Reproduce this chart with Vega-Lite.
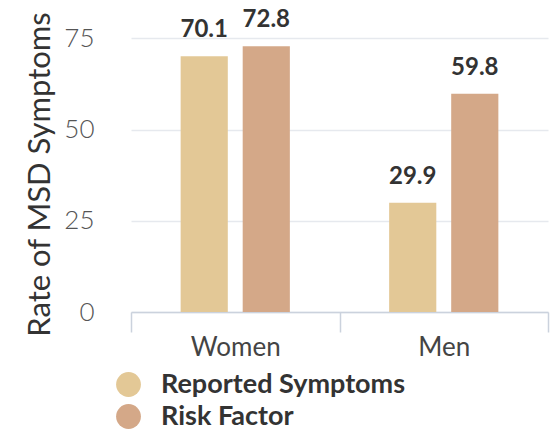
{
  "$schema": "https://vega.github.io/schema/vega-lite/v6.json",
  "width": 417,
  "height": 292,
  "autosize": {"type": "none"},
  "padding": {"left": 131, "top": 20, "right": 4, "bottom": 122},
  "background": "white",
  "config": {
    "view": {"stroke": null},
    "font": "Lato"
  },
  "data": {
    "values": [
      {"gender": "Women", "measure": "Reported Symptoms", "value": 70.1},
      {"gender": "Women", "measure": "Risk Factor", "value": 72.8},
      {"gender": "Men", "measure": "Reported Symptoms", "value": 29.9},
      {"gender": "Men", "measure": "Risk Factor", "value": 59.8}
    ]
  },
  "encoding": {
    "x": {
      "field": "gender",
      "type": "nominal",
      "sort": ["Women", "Men"],
      "scale": {"paddingInner": 0, "paddingOuter": 0},
      "axis": {
        "title": null,
        "labelAngle": 0,
        "labelFont": "Lato",
        "labelFontSize": 26,
        "labelColor": "#444444",
        "labelPadding": 2,
        "tickBand": "extent",
        "tickSize": 20,
        "tickColor": "#CBD2DD",
        "domainColor": "#CBD2DD",
        "domainWidth": 1.5,
        "tickWidth": 1.5,
        "grid": false
      }
    },
    "xOffset": {
      "field": "measure",
      "type": "nominal",
      "sort": ["Reported Symptoms", "Risk Factor"],
      "scale": {"paddingInner": 0.24, "paddingOuter": 0.8}
    },
    "y": {
      "field": "value",
      "type": "quantitative",
      "scale": {"domain": [0, 80], "nice": false},
      "axis": {
        "title": "Rate of MSD Symptoms",
        "titleFont": "Lato",
        "titleFontSize": 31,
        "titleFontWeight": "normal",
        "titleColor": "#333333",
        "titleX": -75,
        "titleY": 154,
        "values": [0, 25, 50, 75],
        "labelFont": "Lato",
        "labelFontSize": 26,
        "labelFontWeight": 300,
        "labelColor": "#555555",
        "labelPadding": 37,
        "domain": false,
        "ticks": false,
        "gridColor": "#E6E9EE",
        "gridWidth": 1.5
      }
    }
  },
  "layer": [
    {
      "mark": {"type": "bar"},
      "encoding": {
        "color": {
          "field": "measure",
          "type": "nominal",
          "sort": ["Reported Symptoms", "Risk Factor"],
          "scale": {"range": ["#E3C896", "#D4A888"]},
          "legend": {
            "title": null,
            "orient": "none",
            "legendX": -16,
            "legendY": 351,
            "padding": 0,
            "symbolType": "circle",
            "symbolSize": 615,
            "symbolStrokeWidth": 0,
            "symbolOpacity": 1,
            "rowPadding": 4,
            "labelFont": "Lato",
            "labelFontSize": 27,
            "labelFontWeight": "bold",
            "labelColor": "#333333",
            "labelOffset": 19,
            "labelLimit": 400
          }
        }
      }
    },
    {
      "mark": {
        "type": "text",
        "baseline": "alphabetic",
        "dy": -19,
        "font": "Lato",
        "fontSize": 24,
        "fontWeight": "bold",
        "color": "#333333"
      },
      "encoding": {
        "text": {"field": "value", "type": "quantitative", "format": ".1f"}
      }
    }
  ]
}
